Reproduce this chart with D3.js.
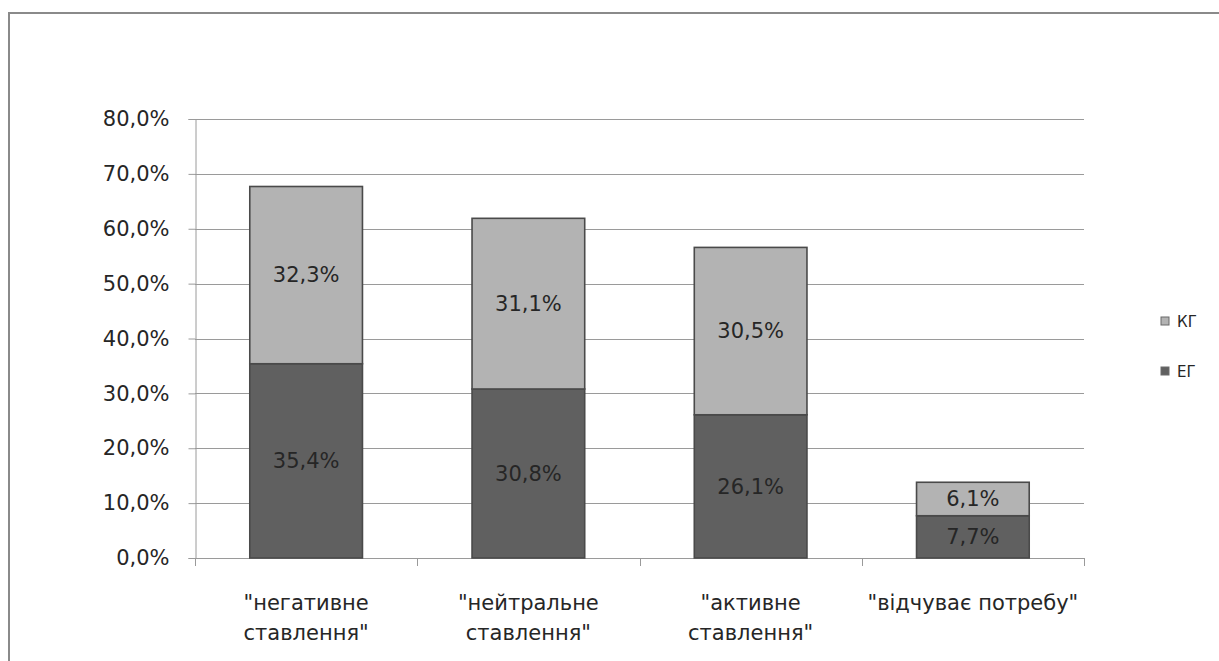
<!DOCTYPE html>
<html>
<head>
<meta charset="utf-8">
<script src="https://cdn.jsdelivr.net/npm/d3@7"></script>
<style>
  html, body { margin: 0; padding: 0; background: #fff; }
  svg { display: block; }
  text { font-family: "DejaVu Sans", sans-serif; fill: #262626; }
</style>
</head>
<body>
<svg id="chart" width="1219" height="661"></svg>
<script>
// Categories (two-line labels) and stacked series values, in percent
const categories = [
  ["\"негативне", "ставлення\""],
  ["\"нейтральне", "ставлення\""],
  ["\"активне", "ставлення\""],
  ["\"відчуває потребу\""]
];
const seriesNames = ["ЕГ", "КГ"];
const egValues = [35.4, 30.8, 26.1, 7.7];
const kgValues = [32.3, 31.1, 30.5, 6.1];
const yTicks = [0, 10, 20, 30, 40, 50, 60, 70, 80];

const colors = { "ЕГ": "#606060", "КГ": "#b3b3b3" };
const fmt = v => v.toFixed(1).replace(".", ",") + "%";
const FONT = 21;

const svg = d3.select("#chart");

// outer frame (right and bottom run past the page edge)
svg.append("rect")
  .attr("x", 9).attr("y", 13)
  .attr("width", 1230).attr("height", 670)
  .attr("fill", "none")
  .attr("stroke", "#8a8a8a")
  .attr("stroke-width", 2);

const plot = { left: 195, right: 1084, top: 119, bottom: 558 };

const x = d3.scaleBand()
  .domain(d3.range(categories.length))
  .range([plot.left, plot.right])
  .paddingInner(0.493)
  .paddingOuter(0.2465);

const y = d3.scaleLinear().domain([0, 80]).range([plot.bottom, plot.top]);

const rows = categories.map((c, i) => ({ i, "ЕГ": egValues[i], "КГ": kgValues[i] }));
const stacked = d3.stack().keys(seriesNames)(rows);

// horizontal gridlines
svg.append("g").selectAll("line")
  .data(yTicks.filter(t => t > 0))
  .join("line")
  .attr("x1", plot.left).attr("x2", plot.right)
  .attr("y1", d => Math.round(y(d)) + 0.5).attr("y2", d => Math.round(y(d)) + 0.5)
  .attr("stroke", "#9a9a9a").attr("stroke-width", 1);

// y axis
const yAxis = svg.append("g")
  .attr("transform", `translate(${plot.left + 0.5},0)`)
  .call(d3.axisLeft(y).tickValues(yTicks).tickSize(7).tickPadding(19).tickFormat(fmt));
yAxis.attr("font-family", null).attr("font-size", null);
yAxis.select(".domain").attr("stroke", "#9a9a9a");
yAxis.selectAll(".tick line").attr("stroke", "#9a9a9a");
yAxis.selectAll(".tick text").style("font-size", FONT + "px").attr("fill", "#262626");

// x axis baseline with ticks on category boundaries
const boundaries = d3.range(categories.length + 1);
const xb = d3.scaleLinear().domain([0, categories.length]).range([plot.left, plot.right]);
svg.append("line")
  .attr("x1", plot.left).attr("x2", plot.right)
  .attr("y1", Math.round(y(0)) + 0.5).attr("y2", Math.round(y(0)) + 0.5)
  .attr("stroke", "#9a9a9a");
svg.append("g").selectAll("line")
  .data(boundaries)
  .join("line")
  .attr("x1", d => Math.round(xb(d)) + 0.5).attr("x2", d => Math.round(xb(d)) + 0.5)
  .attr("y1", y(0)).attr("y2", y(0) + 8)
  .attr("stroke", "#9a9a9a");

// stacked bars
const layers = svg.append("g").selectAll("g")
  .data(stacked)
  .join("g")
  .attr("fill", d => colors[d.key]);

layers.selectAll("rect")
  .data(d => d)
  .join("rect")
  .attr("x", d => x(d.data.i))
  .attr("width", x.bandwidth())
  .attr("y", d => y(d[1]))
  .attr("height", d => y(d[0]) - y(d[1]))
  .attr("stroke", "#4a4a4a")
  .attr("stroke-width", 1.6);

// value labels in the middle of each segment
layers.selectAll("text")
  .data(d => d.map(v => ({ v, key: d.key })))
  .join("text")
  .attr("x", d => x(d.v.data.i) + x.bandwidth() / 2)
  .attr("y", d => (y(d.v[0]) + y(d.v[1])) / 2)
  .attr("dy", "0.35em")
  .attr("text-anchor", "middle")
  .style("font-size", FONT + "px")
  .text(d => fmt(d.v.data[d.key]));

// category labels
const catG = svg.append("g").selectAll("text")
  .data(categories)
  .join("text")
  .attr("text-anchor", "middle")
  .style("font-size", FONT + "px")
  .attr("x", (d, i) => x(i) + x.bandwidth() / 2)
  .attr("y", 610);
catG.selectAll("tspan")
  .data(d => d)
  .join("tspan")
  .attr("x", function () { return d3.select(this.parentNode).attr("x"); })
  .attr("dy", (d, j) => j === 0 ? 0 : 30)
  .text(d => d);

// legend
const legendItems = ["КГ", "ЕГ"];
const lg = svg.append("g").selectAll("g")
  .data(legendItems)
  .join("g")
  .attr("transform", (d, i) => `translate(1161,${317 + i * 50})`);
lg.append("rect")
  .attr("width", 8).attr("height", 8)
  .attr("fill", d => colors[d])
  .attr("stroke", "#6a6a6a").attr("stroke-width", 1);
lg.append("text")
  .attr("x", 16).attr("y", 4.5).attr("dy", "0.35em")
  .style("font-size", "15px")
  .text(d => d);
</script>
</body>
</html>
